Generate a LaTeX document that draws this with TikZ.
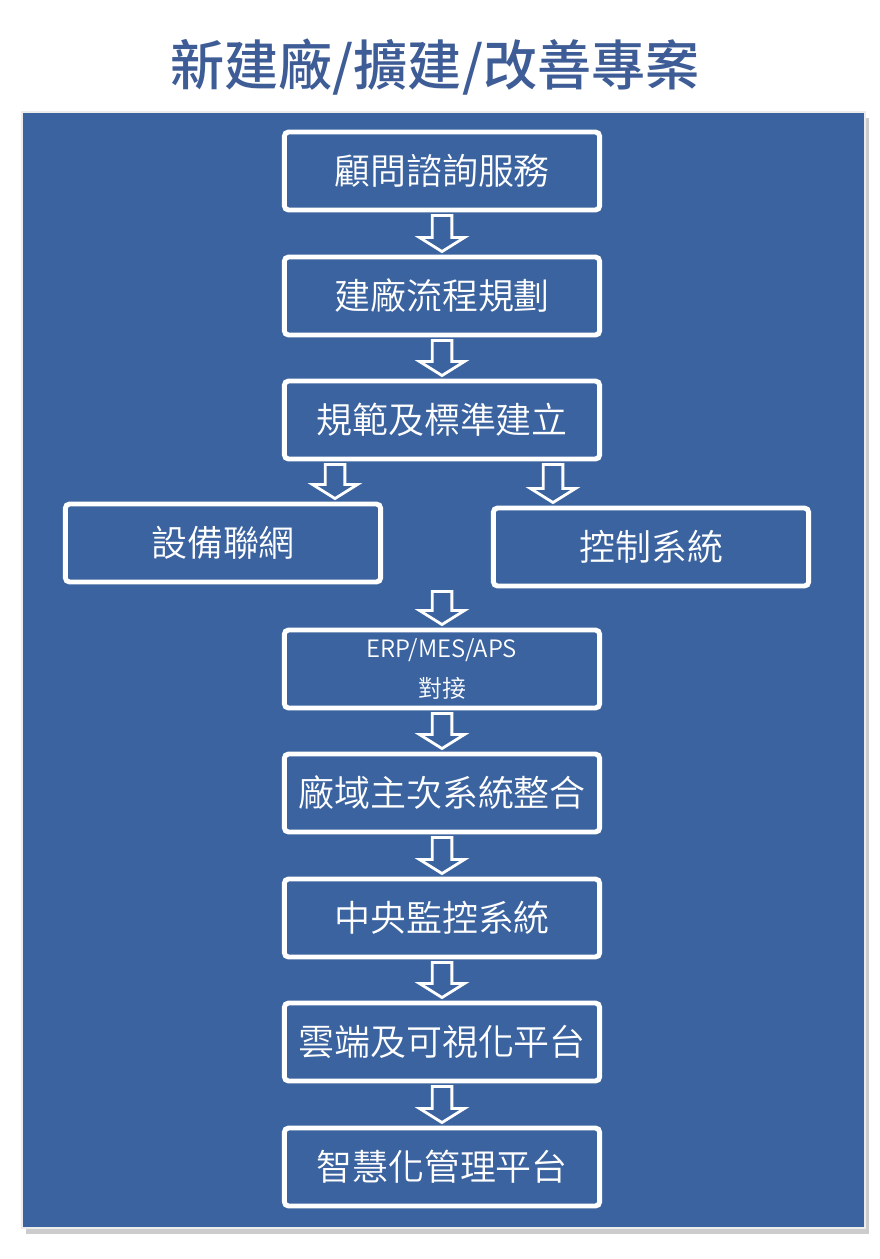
\documentclass[tikz,border=0pt]{standalone}
\usepackage{fontspec}
\setmainfont{Noto Sans CJK TC DemiLight}
\newfontfamily\titlefont{Noto Sans CJK TC Medium}
\usetikzlibrary{calc,positioning,shadows}
\definecolor{panelblue}{RGB}{59,99,160}
\definecolor{titleblue}{RGB}{62,92,150}

\tikzset{
  stepbox/.style={draw=white, line width=3.5pt, fill=panelblue, rounded corners=3pt,
    minimum width=7.88cm, minimum height=1.95cm, inner sep=0pt, text=white, align=center,
    font=\fontsize{25.6}{30}\selectfont,
    drop shadow={opacity=0.35, shadow xshift=1.5pt, shadow yshift=-1.5pt}},
  flowarrow/.style={draw=white, line width=2pt, fill=panelblue, line join=miter},
}

% block arrow: x from #1, tip at #2
\newcommand{\flowarrow}[2]{%
  \draw[flowarrow] let \p1=($(#1)+(0,3)$), \p2=($(#2)+(0,-3)$) in
    (\x1-7pt,\y1) -- (\x1-7pt,\y2+10pt) -- (\x1-16pt,\y2+10pt) -- (\x1,\y2)
    -- (\x1+16pt,\y2+10pt) -- (\x1+7pt,\y2+10pt) -- (\x1+7pt,\y1) -- cycle;}

\begin{document}
\begin{tikzpicture}[x=0.025cm, y=-0.025cm]
      \useasboundingbox (0,0) rectangle (880,1259);
      \fill[white] (0,0) rectangle (880,1259);

      \node[text=titleblue, font=\titlefont\fontsize{38.5}{42}\selectfont] (title) at (435,67) {新建廠/擴建/改善專案};

      \draw[draw=white!85!gray, line width=1.2pt, fill=panelblue,
        drop shadow={opacity=0.4, shadow xshift=3pt, shadow yshift=-4pt}] (22,112) rectangle (865,1228);

      \node[stepbox] (consult) at (442,171) {顧問諮詢服務};
      \node[stepbox] (plan) at (442,296) {建廠流程規劃};
      \node[stepbox] (std) at (442,420) {規範及標準建立};
      \node[stepbox] (net) at (223,543) {設備聯網};
      \node[stepbox] (ctl) at (651,547) {控制系統};
      \node[stepbox, font=\fontsize{17}{28}\selectfont] (erp) at (442,669) {ERP/MES/APS\\對接};
      \node[stepbox] (integ) at (442,793) {廠域主次系統整合};
      \node[stepbox] (scada) at (442,918) {中央監控系統};
      \node[stepbox] (cloud) at (442,1042) {雲端及可視化平台};
      \node[stepbox] (smart) at (442,1167) {智慧化管理平台};

      \flowarrow{consult.south}{plan.north}
      \flowarrow{plan.south}{std.north}
      \flowarrow{$(std.south)+(-107,0)$}{net.north}
      \flowarrow{$(std.south)+(111,0)$}{ctl.north}
      \flowarrow{ctl.south -| erp.north}{erp.north}
      \flowarrow{erp.south}{integ.north}
      \flowarrow{integ.south}{scada.north}
      \flowarrow{scada.south}{cloud.north}
      \flowarrow{cloud.south}{smart.north}
\end{tikzpicture}
\end{document}
